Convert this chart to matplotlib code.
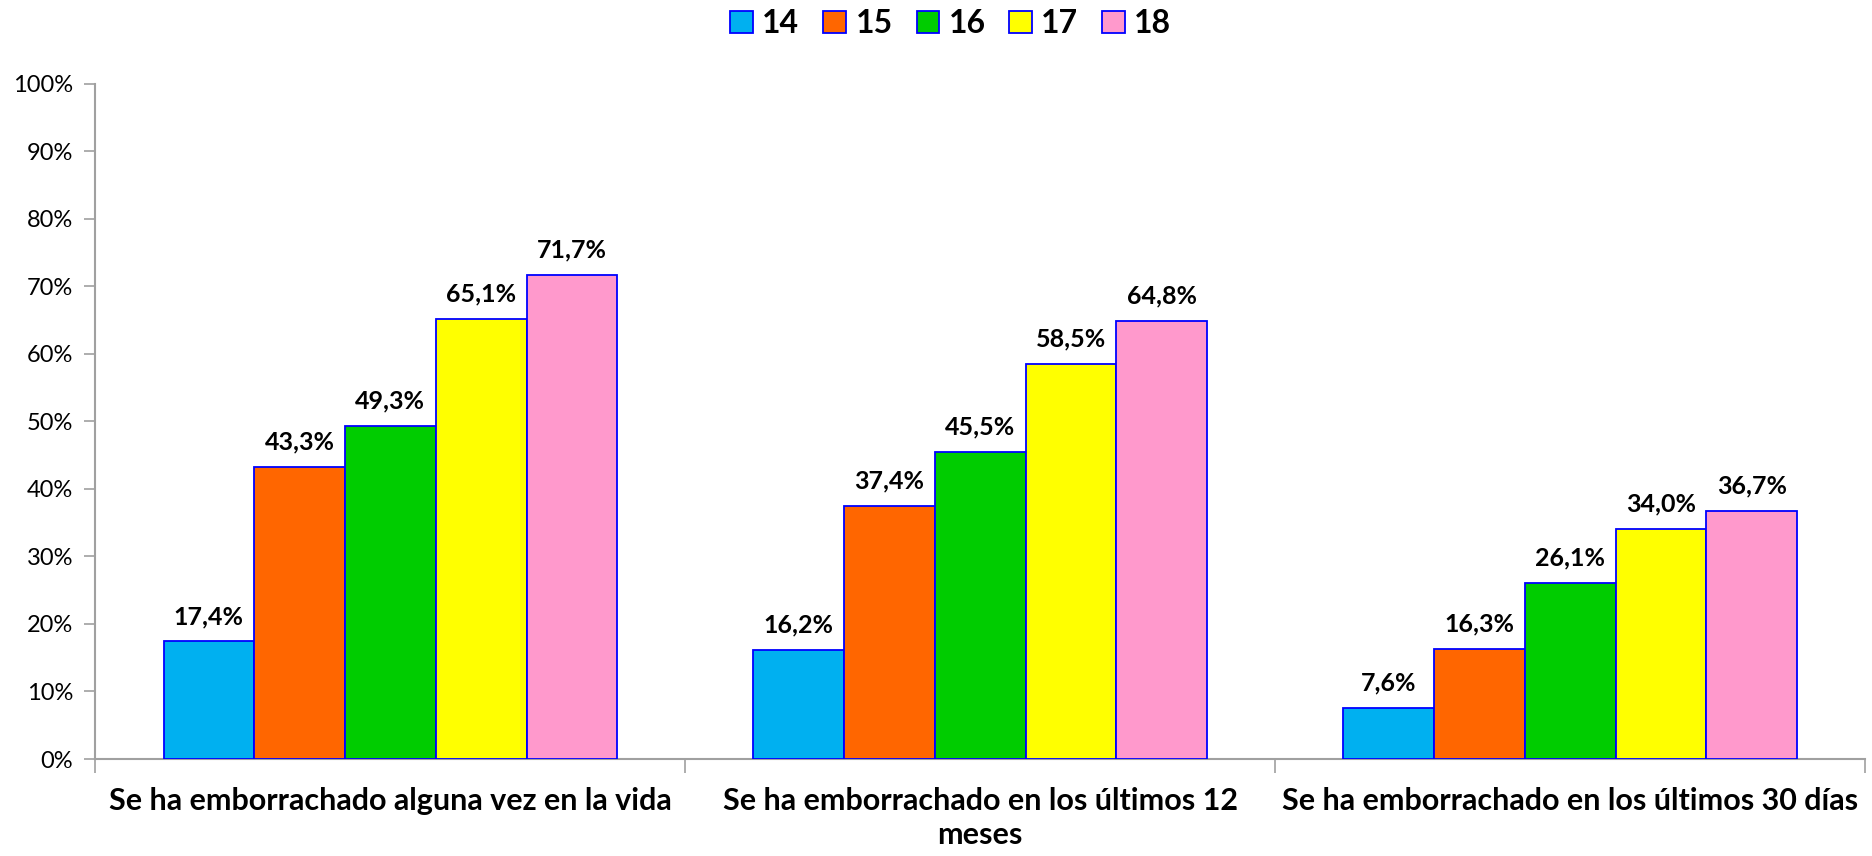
import numpy as np
import matplotlib.pyplot as plt
from matplotlib.patches import Patch

categorias = ['Se ha emborrachado alguna vez en la vida',
              'Se ha emborrachado en los últimos 12\nmeses',
              'Se ha emborrachado en los últimos 30 días']
edades = ['14', '15', '16', '17', '18']
v14 = [17.4, 16.2, 7.6]
v15 = [43.3, 37.4, 16.3]
v16 = [49.3, 45.5, 26.1]
v17 = [65.1, 58.5, 34.0]
v18 = [71.7, 64.8, 36.7]
colores = ['#00B0F0', '#FF6600', '#00CC00', '#FFFF00', '#FF99CC']

plt.rcParams['font.family'] = ['Lato', 'DejaVu Sans']

fig = plt.figure(figsize=(18.72, 8.56), dpi=100)
ax = fig.add_axes([0.051, 0.1133, 0.9453, 0.789])

series = [v14, v15, v16, v17, v18]
x = np.arange(len(categorias))
w = 1 / 6.5
for i, vals in enumerate(series):
    pos = x + (i - 2) * w
    bars = ax.bar(pos, vals, w, color=colores[i], edgecolor='#0000FF', linewidth=1.3, zorder=3)
    for b, v in zip(bars, vals):
        ax.text(b.get_x() + b.get_width() / 2, v + 2.0, f'{v:.1f}%'.replace('.', ','),
                ha='center', va='bottom', fontsize=18, fontweight='bold')

ax.set_xlim(-0.5, 2.5)
ax.set_ylim(0, 100)
ax.set_yticks(np.arange(0, 101, 10))
ax.set_yticklabels([f'{t}%' for t in range(0, 101, 10)], fontsize=17)
ax.set_xticks(x)
ax.set_xticklabels(categorias, fontsize=22, fontweight='bold', linespacing=1.25)
ax.set_xticks([-0.5, 0.5, 1.5, 2.5], minor=True)
ax.tick_params(axis='x', which='major', length=0, pad=20)
ax.tick_params(axis='x', which='minor', length=10, color='#A0A0A0', width=1.2)
ax.tick_params(axis='y', length=8, color='#A0A0A0', width=1.2, pad=8)

for s in ['top', 'right']:
    ax.spines[s].set_visible(False)
for s in ['left', 'bottom']:
    ax.spines[s].set_color('#A0A0A0')
    ax.spines[s].set_linewidth(1.5)

handles = [Patch(facecolor=c, edgecolor='#0000FF', linewidth=1.3) for c in colores]
fig.legend(handles, edades, loc='center', bbox_to_anchor=(0.508, 0.972), ncol=5,
           frameon=False, prop={'size': 23, 'weight': 'bold'},
           handlelength=0.7, handleheight=0.7, handletextpad=0.3, columnspacing=0.75)

fig.savefig('out.png', dpi=100)
